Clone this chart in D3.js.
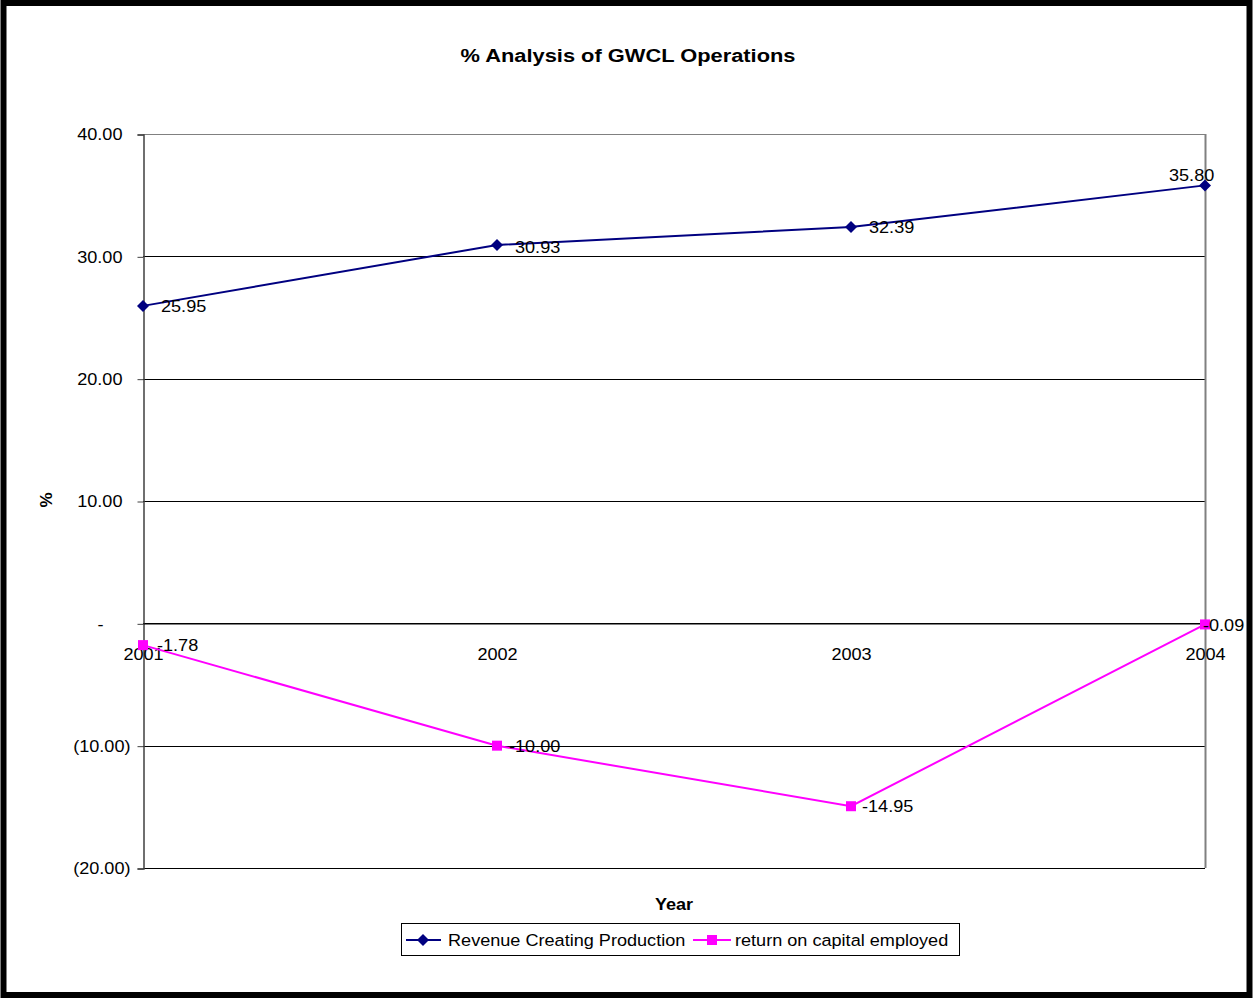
<!DOCTYPE html>
<html><head><meta charset="utf-8">
<script src="https://cdn.jsdelivr.net/npm/d3@7"></script>
<style>body{margin:0;background:#fff}svg{display:block}text{font-family:"Liberation Sans",Arial,sans-serif}</style>
</head><body>
<svg id="c" width="1253" height="998"></svg>
<script>
const years = ["2001","2002","2003","2004"];
const revenue = [25.95, 30.93, 32.39, 35.80];
const roce = [-1.78, -10.00, -14.95, -0.09];
const yTicks = [40, 30, 20, 10, 0, -10, -20];
const seriesNames = ["Revenue Creating Production", "return on capital employed"];

const SX = 1.065; // horizontal stretch of the reference's text
const FS = 17;
const svg = d3.select("#c");
svg.append("rect").attr("x",3.5).attr("y",3).attr("width",1246).attr("height",992)
  .attr("fill","#fff").attr("stroke","#000").attr("stroke-width",6);

const L=143, R=1205, T=134, B=868;
const x = d3.scalePoint().domain(years).range([L,R]);
const y = d3.scaleLinear().domain([-20,40]).range([B,T]);

function txt(g, px, py, s, opts={}){
  const t = g.append("text").attr("transform",`translate(${px},${py}) scale(${opts.sx||SX},1)`)
    .attr("font-size",opts.size||FS).attr("fill","#000").text(s);
  if(opts.anchor) t.attr("text-anchor",opts.anchor);
  if(opts.bold) t.attr("font-weight","bold");
  return t;
}
const f2 = d => d.toFixed(2);

// gridlines
svg.append("g").selectAll("line").data(yTicks).join("line")
  .attr("x1",L).attr("x2",R).attr("y1",d=>Math.round(y(d))+0.5).attr("y2",d=>Math.round(y(d))+0.5)
  .attr("stroke",d=>d===40?"#808080":"#000").attr("stroke-width",1);
svg.append("line").attr("x1",R+0.5).attr("x2",R+0.5).attr("y1",T).attr("y2",B).attr("stroke","#808080").attr("stroke-width",2);

// y axis (accounting style labels)
const fmt = d => d===0 ? "-" : (d<0 ? "("+f2(-d)+")" : f2(d));
const yAxis = d3.axisLeft(y).tickValues(yTicks).tickFormat(fmt).tickSize(6).tickPadding(0);
const ga = svg.append("g").attr("transform",`translate(${L+0.5},0.5)`).call(yAxis);
ga.select(".domain").attr("stroke","#404040").attr("stroke-width",1.5);
ga.selectAll(".tick line").attr("stroke","#404040");
ga.selectAll(".tick text").attr("x",0)
  .attr("text-anchor",d=>d===0?"middle":"end")
  .attr("transform",d=>`translate(${d===0?-43:(d<0?-13:-21)},0) scale(${SX},1)`)
  .attr("font-size",FS).attr("fill","#000").attr("font-family","Liberation Sans, Arial, sans-serif");

// x axis at zero
const xAxis = d3.axisBottom(x).tickSize(0).tickPadding(24);
const gx = svg.append("g").attr("transform",`translate(0,${Math.round(y(0))+0.5})`).call(xAxis);
gx.select(".domain").attr("stroke","#000").attr("stroke-width",1);
gx.selectAll(".tick text").attr("transform",`scale(${SX},1)`).attr("font-size",FS).attr("fill","#000").attr("font-family","Liberation Sans, Arial, sans-serif");

// lines
const line = d3.line().x((d,i)=>x(years[i])).y(d=>y(d));
svg.append("path").datum(revenue).attr("d",line).attr("fill","none").attr("stroke","#000080").attr("stroke-width",2);
svg.append("path").datum(roce).attr("d",line).attr("fill","none").attr("stroke","#FF00FF").attr("stroke-width",2);

// markers
svg.append("g").selectAll("path").data(revenue).join("path")
  .attr("d","M0,-6L6,0L0,6L-6,0Z").attr("fill","#000080")
  .attr("transform",(d,i)=>`translate(${x(years[i])},${y(d)})`);
svg.append("g").selectAll("rect").data(roce).join("rect")
  .attr("x",(d,i)=>x(years[i])-5).attr("y",d=>y(d)-5).attr("width",10).attr("height",10).attr("fill","#FF00FF");

// data labels
const revOff = [[18,6],[18,8],[18,6],[-36,-4]];
const gl = svg.append("g");
revenue.forEach((d,i)=>txt(gl, x(years[i])+revOff[i][0], y(d)+revOff[i][1], f2(d)));
const roceOff = [[14,6],[12,6],[11,6],[-2,7]];
roce.forEach((d,i)=>txt(gl, x(years[i])+roceOff[i][0], y(d)+roceOff[i][1], f2(d)));

// titles
txt(svg, 628, 62, "% Analysis of GWCL Operations", {size:19, sx:1.15, bold:true, anchor:"middle"});
txt(svg, 674, 910, "Year", {bold:true, anchor:"middle"});
svg.append("text").attr("transform","translate(52,500) rotate(-90)").attr("text-anchor","middle").attr("font-size",FS).attr("font-weight","bold").text("%");

// legend
const lg = svg.append("g");
lg.append("rect").attr("x",401.5).attr("y",923.5).attr("width",558).attr("height",32).attr("fill","#fff").attr("stroke","#000").attr("stroke-width",1);
lg.append("line").attr("x1",406).attr("x2",441).attr("y1",940).attr("y2",940).attr("stroke","#000080").attr("stroke-width",2);
lg.append("path").attr("d","M0,-6L6,0L0,6L-6,0Z").attr("fill","#000080").attr("transform","translate(423,940)");
txt(lg, 448, 946, seriesNames[0]);
lg.append("line").attr("x1",693).attr("x2",731).attr("y1",940).attr("y2",940).attr("stroke","#FF00FF").attr("stroke-width",2);
lg.append("rect").attr("x",707).attr("y",935).attr("width",10).attr("height",10).attr("fill","#FF00FF");
txt(lg, 735, 946, seriesNames[1]);
</script>
</body></html>
